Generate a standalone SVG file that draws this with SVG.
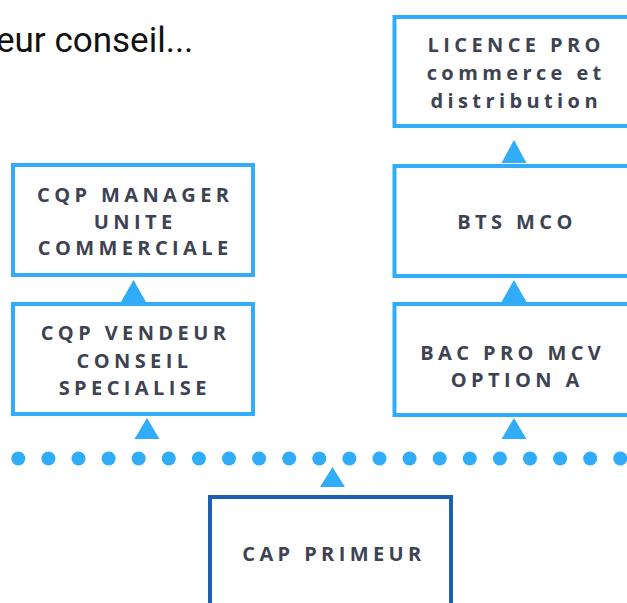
<svg xmlns="http://www.w3.org/2000/svg" width="627" height="603" viewBox="0 0 627 603">
<style>
.box{fill:#ffffff;stroke:#30acf8;stroke-width:4}
.cap{fill:#ffffff;stroke:#1d5fb2;stroke-width:4}
.lbl{font-family:"Open Sans","DejaVu Sans",sans-serif;font-weight:700;font-size:20px;letter-spacing:4.4px;fill:#3d4352;text-anchor:middle}
.arr{fill:#30acf8}
.dot{fill:#30acf8}
.note{font-family:Roboto,"Liberation Sans",sans-serif;font-size:35px;fill:#111111}
</style>
<rect width="627" height="603" fill="#ffffff"/>
<text class="note" x="-4" y="52">eur conseil...</text>

<g id="connectors">
<polygon class="arr" points="514,140 526.5,163 501.5,163"/>
<polygon class="arr" points="514,280 526.5,302 501.5,302"/>
<polygon class="arr" points="514,418 526.5,439 501.5,439"/>
<polygon class="arr" points="133.5,280 146,302 121,302"/>
<polygon class="arr" points="147,418 159.5,439 134.5,439"/>
<polygon class="arr" points="332.5,467 345,487 320,487"/>
<g id="dotline">
<circle class="dot" cx="18.3" cy="458.5" r="7"/>
<circle class="dot" cx="48.4" cy="458.5" r="7"/>
<circle class="dot" cx="78.5" cy="458.5" r="7"/>
<circle class="dot" cx="108.6" cy="458.5" r="7"/>
<circle class="dot" cx="138.7" cy="458.5" r="7"/>
<circle class="dot" cx="168.8" cy="458.5" r="7"/>
<circle class="dot" cx="198.9" cy="458.5" r="7"/>
<circle class="dot" cx="229.0" cy="458.5" r="7"/>
<circle class="dot" cx="259.1" cy="458.5" r="7"/>
<circle class="dot" cx="289.2" cy="458.5" r="7"/>
<circle class="dot" cx="319.3" cy="458.5" r="7"/>
<circle class="dot" cx="349.4" cy="458.5" r="7"/>
<circle class="dot" cx="379.5" cy="458.5" r="7"/>
<circle class="dot" cx="409.6" cy="458.5" r="7"/>
<circle class="dot" cx="439.7" cy="458.5" r="7"/>
<circle class="dot" cx="469.8" cy="458.5" r="7"/>
<circle class="dot" cx="499.9" cy="458.5" r="7"/>
<circle class="dot" cx="530.0" cy="458.5" r="7"/>
<circle class="dot" cx="560.1" cy="458.5" r="7"/>
<circle class="dot" cx="590.2" cy="458.5" r="7"/>
<circle class="dot" cx="620.3" cy="458.5" r="7"/>
</g>
</g>

<g id="licence">
<rect class="box" x="394.5" y="17" width="240" height="109"/>
<text class="lbl" x="516.2" y="52">LICENCE PRO</text>
<text class="lbl" x="516.2" y="80">commerce et</text>
<text class="lbl" x="516.2" y="108">distribution</text>
</g>
<g id="bts">
<rect class="box" x="394.5" y="166" width="240" height="110"/>
<text class="lbl" x="517" y="229">BTS MCO</text>
</g>
<g id="bacpro">
<rect class="box" x="394.5" y="304" width="240" height="111"/>
<text class="lbl" x="512.7" y="360">BAC PRO MCV</text>
<text class="lbl" x="517.2" y="387">OPTION A</text>
</g>
<g id="cqpmanager">
<rect class="box" x="13" y="165" width="240" height="110"/>
<text class="lbl" x="135.2" y="201.5">CQP MANAGER</text>
<text class="lbl" x="135.2" y="228.5">UNITE</text>
<text class="lbl" x="135.2" y="255">COMMERCIALE</text>
</g>
<g id="cqpvendeur">
<rect class="box" x="13" y="304" width="240" height="110"/>
<text class="lbl" x="135.5" y="340">CQP VENDEUR</text>
<text class="lbl" x="134.5" y="367.5">CONSEIL</text>
<text class="lbl" x="134.7" y="395">SPECIALISE</text>
</g>
<g id="capprimeur">
<rect class="cap" x="210" y="497" width="241" height="130"/>
<text class="lbl" x="334" y="561">CAP PRIMEUR</text>
</g>
</svg>
